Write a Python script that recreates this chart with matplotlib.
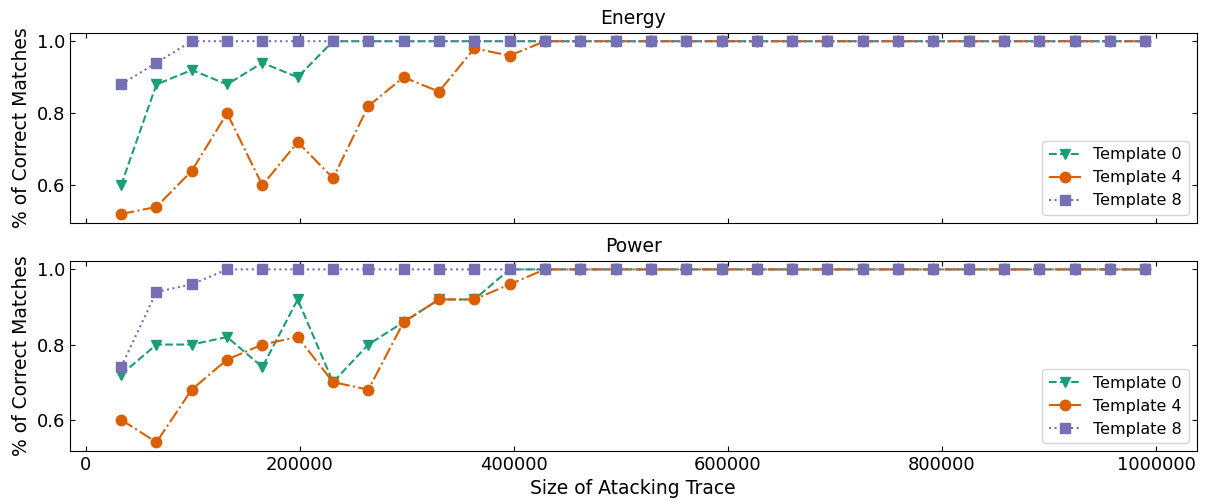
import matplotlib
matplotlib.use("Agg")
import matplotlib.pyplot as plt

# Tailles de trace (axe x)
taille_trace = [33000 * k for k in range(1, 31)]

# Energy
energy_t0 = [0.60, 0.88, 0.92, 0.88, 0.94, 0.90] + [1.0] * 24
energy_t4 = [0.52, 0.54, 0.64, 0.80, 0.60, 0.72, 0.62, 0.82, 0.90, 0.86, 0.98, 0.96] + [1.0] * 18
energy_t8 = [0.88, 0.94] + [1.0] * 28

# Power
power_t0 = [0.72, 0.80, 0.80, 0.82, 0.74, 0.92, 0.70, 0.80, 0.86, 0.92, 0.92] + [1.0] * 19
power_t4 = [0.60, 0.54, 0.68, 0.76, 0.80, 0.82, 0.70, 0.68, 0.86, 0.92, 0.92, 0.96] + [1.0] * 18
power_t8 = [0.74, 0.94, 0.96] + [1.0] * 27

couleurs = ["#1b9e77", "#d95f02", "#7570b3"]

fig, axes = plt.subplots(2, 1, figsize=(12.05, 5.01), dpi=100, sharex=True)
fig.subplots_adjust(left=0.058, right=0.993, top=0.935, bottom=0.1, hspace=0.2)

panneaux = [("Energy", energy_t0, energy_t4, energy_t8),
            ("Power", power_t0, power_t4, power_t8)]

for ax, (titre, t0, t4, t8) in zip(axes, panneaux):
    ax.plot(taille_trace, t0, color=couleurs[0], linestyle="--", marker="v", markersize=7.5, label="Template 0")
    ax.plot(taille_trace, t4, color=couleurs[1], linestyle="-.", marker="o", markersize=7.5, label="Template 4")
    ax.plot(taille_trace, t8, color=couleurs[2], linestyle=":", marker="s", markersize=7.5, label="Template 8")
    ax.set_title(titre, fontsize=13.5)
    ax.set_ylabel("% of Correct Matches", fontsize=13.5)
    ax.set_yticks([0.6, 0.8, 1.0])
    ax.tick_params(direction="in", top=True, right=True, labelsize=13)
    ax.legend(loc="lower right", fontsize=11.5)

axes[1].set_xticks([0, 200000, 400000, 600000, 800000, 1000000])
axes[1].ticklabel_format(axis="x", style="plain")
axes[1].set_xlabel("Size of Atacking Trace", fontsize=13.5)

plt.savefig("out.png", dpi=100)
